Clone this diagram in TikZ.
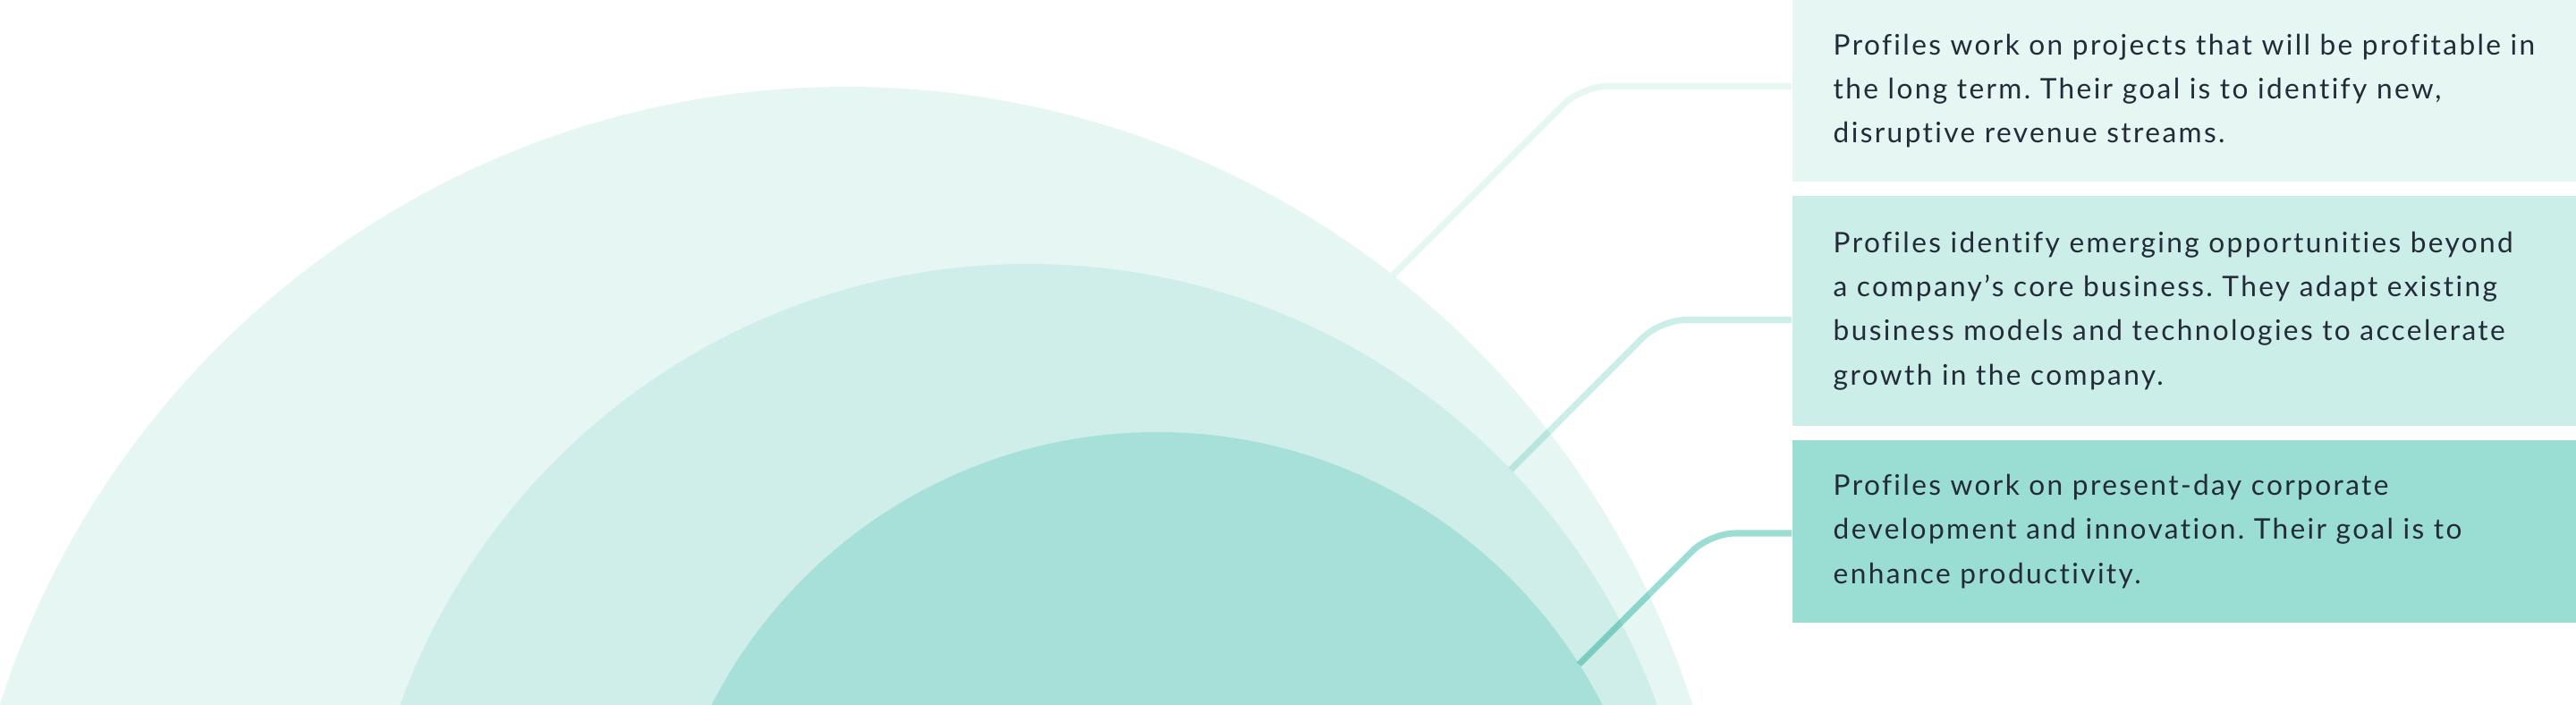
\documentclass[tikz,border=0pt]{standalone}
\usepackage{fontspec}
\setmainfont{Lato}[LetterSpace=7.5, Ligatures=NoCommon]
\usetikzlibrary{calc}
\definecolor{bandOuter}{HTML}{E6F6F3}
\definecolor{bandMiddle}{HTML}{CFEEE9}
\definecolor{bandInner}{HTML}{A6E0D8}
\definecolor{boxLong}{HTML}{E6F6F3}
\definecolor{boxNext}{HTML}{CCEEE8}
\definecolor{boxCore}{HTML}{9ADDD3}
\definecolor{inkText}{HTML}{232B39}
\tikzset{
  horizon/.style={anchor=west, inner xsep=0.46cm, inner ysep=0, text width=8.2cm,
    align=left, text=inkText, font=\fontsize{9}{14}\selectfont\frenchspacing},
  link/.style={line width=2pt, rounded corners=0.28cm, blend mode=multiply}
}

\begin{document}
\begin{tikzpicture}
		%%%%% START %%%%%
		
		\useasboundingbox (0, 0) rectangle (28.8, 7.87);
		
		\begin{scope}
			\clip (0, 0) rectangle (28.8, 7.87);
			\fill[color=bandOuter] (9.46, -3.03) circle (9.93);
			\fill[color=bandMiddle] (11.5, -2.55) circle (7.47);
			\fill[color=bandInner] (12.935, -2.55) circle (5.59);
		\end{scope}
		
		\coordinate (edgeOuter) at ($(9.46, -3.03)+(52:9.93)$);
		\coordinate (edgeMiddle) at ($(11.5, -2.55)+(43.8:7.47)$);
		\coordinate (edgeInner) at ($(12.935, -2.55)+(32.4:5.59)$);
		
		\node[horizon, fill=boxLong, minimum height=2.03cm] (long) at (20.03, 6.855)
			{Profiles work on projects that will be profitable in\\the long term. Their goal is to identify new,\\disruptive revenue streams.};
		\node[horizon, fill=boxNext, minimum height=2.57cm] (next) at (20.03, 4.395)
			{Profiles identify emerging opportunities beyond\\a company’s core business. They adapt existing\\business models and technologies to accelerate\\growth in the company.};
		\node[horizon, fill=boxCore, minimum height=2.04cm] (core) at (20.03, 1.93)
			{Profiles work on present-day corporate\\development and innovation. Their goal is to\\enhance productivity.};
		
		\draw[link, color=boxLong] let \p1=(edgeOuter), \p2=($(long.west)+(0, 0.05)$) in
			(edgeOuter) -- (\x1+\y2-\y1, \y2) -- (\p2);
		\draw[link, color=boxNext] let \p1=(edgeMiddle), \p2=($(next.west)+(0, -0.1)$) in
			(edgeMiddle) -- (\x1+\y2-\y1, \y2) -- (\p2);
		\draw[link, color=boxCore] let \p1=(edgeInner), \p2=($(core.west)+(0, -0.02)$) in
			(edgeInner) -- (\x1+\y2-\y1, \y2) -- (\p2);
		
		%%%%% END %%%%%
\end{tikzpicture}
\end{document}
